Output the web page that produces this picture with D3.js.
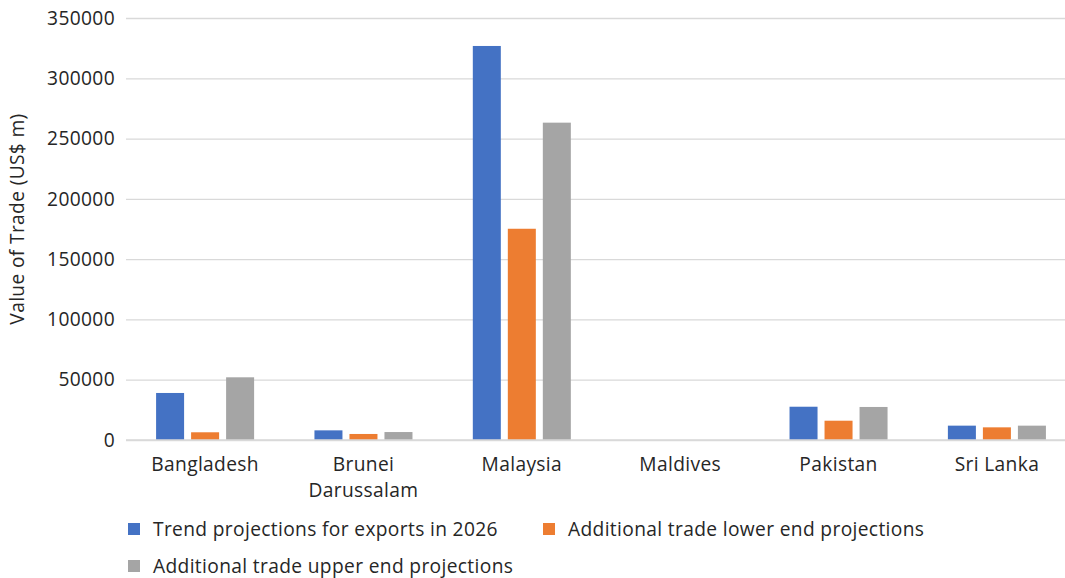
<!DOCTYPE html>
<html><head><meta charset="utf-8">
<script src="https://cdn.jsdelivr.net/npm/d3@7"></script>
<style>body{margin:0;background:#fff;}svg{display:block;font-family:"Open Sans",sans-serif;}</style>
</head><body><svg id="c" width="1065" height="578"></svg>
<script>
const categories = ["Bangladesh", "Brunei Darussalam", "Malaysia", "Maldives", "Pakistan", "Sri Lanka"];
const seriesNames = ["Trend projections for exports in 2026", "Additional trade lower end projections", "Additional trade upper end projections"];
const trendValues = [39000, 8000, 326800, 0, 27600, 11900];
const lowerValues = [6400, 5000, 175200, 0, 16000, 10500];
const upperValues = [52000, 6600, 263200, 0, 27400, 11900];
const colors = ["#4472c4", "#ed7d31", "#a5a5a5"];
const yTicks = [0, 50000, 100000, 150000, 200000, 250000, 300000, 350000];

(function () {
const FONT = "'Open Sans', sans-serif";
const FS = 19.2;
const LS = "0.35px";
const seriesValues = [trendValues, lowerValues, upperValues];
const svg = d3.select("#c");
const pLeft = 126, pRight = 1065, bandRight = 1076, pTop = 18, pBottom = 440;
const y = d3.scaleLinear().domain([0, 350000]).range([pBottom, pTop]);
const x0 = d3.scaleBand().domain(categories).range([pLeft, bandRight]).paddingInner(0.381).paddingOuter(0.19);
const x1 = d3.scaleBand().domain(seriesNames).range([0, x0.bandwidth()]).paddingInner(0.2).paddingOuter(0);

const yAxis = d3.axisLeft(y).tickValues(yTicks).tickSize(-(pRight - pLeft)).tickFormat(d3.format("d")).tickPadding(11);
const g = svg.append("g").attr("transform", `translate(${pLeft},0)`).call(yAxis);
g.select(".domain").remove();
g.selectAll(".tick line").attr("stroke", "#d9d9d9").attr("stroke-width", 1.3);
g.selectAll(".tick text").attr("fill", "#262626").attr("font-size", FS).attr("font-family", FONT).attr("letter-spacing", LS);

categories.forEach((c, i) => {
  seriesNames.forEach((s, j) => {
    const v = seriesValues[j][i];
    svg.append("rect")
      .attr("x", x0(c) + x1(s))
      .attr("y", y(v))
      .attr("width", x1.bandwidth())
      .attr("height", pBottom - y(v))
      .attr("fill", colors[j]);
  });
});

const xAxis = d3.axisBottom(x0).tickSize(0).tickPadding(17);
const gx = svg.append("g").attr("transform", `translate(0,${pBottom})`).call(xAxis);
gx.select(".domain").attr("d", `M${pLeft},0H${pRight}`).attr("stroke", "#d9d9d9").attr("stroke-width", 1.3);
gx.selectAll(".tick text").attr("fill", "#262626").attr("font-size", FS).attr("font-family", FONT).attr("letter-spacing", LS)
  .each(function(d) {
    const t = d3.select(this);
    const words = d.split(" ");
    if (words.length > 1 && d.length > 12) {
      t.text(null);
      words.forEach((w, k) => t.append("tspan").attr("x", 0).attr("dy", k === 0 ? "0.71em" : "1.38em").text(w));
    }
  });

svg.append("text").attr("transform", `translate(24,219) rotate(-90)`)
  .attr("text-anchor", "middle").attr("fill", "#262626").attr("font-size", FS).attr("font-family", FONT).attr("letter-spacing", LS).text("Value of Trade (US$ m)");

const legendPos = [[128, 529], [543, 529], [128, 566]];
seriesNames.forEach((s, j) => {
  const [lx, ly] = legendPos[j];
  svg.append("rect").attr("x", lx).attr("y", ly - 6).attr("width", 12).attr("height", 12).attr("fill", colors[j]);
  svg.append("text").attr("x", lx + 25).attr("y", ly + 6.5).attr("fill", "#262626").attr("font-size", FS).attr("font-family", FONT).attr("letter-spacing", LS).text(s);
});
})();
</script></body></html>
